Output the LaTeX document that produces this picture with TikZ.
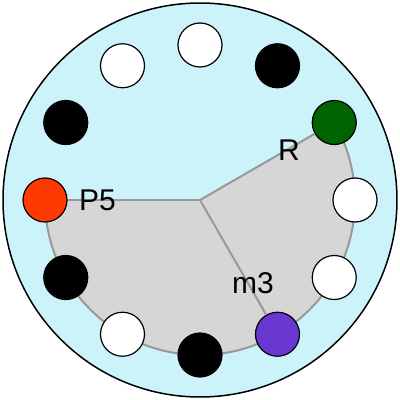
\documentclass[tikz,border=0pt]{standalone}
\usepackage{fontspec}
\setmainfont{Liberation Sans}
\usetikzlibrary{positioning}
\definecolor{dialbg}{RGB}{204,242,250}
\definecolor{slicefill}{RGB}{214,214,214}
\definecolor{sliceline}{RGB}{153,153,153}
\definecolor{pegred}{RGB}{255,58,0}
\definecolor{peggreen}{RGB}{0,100,0}
\definecolor{pegpurple}{RGB}{104,56,208}

\begin{document}
\begin{tikzpicture}[x=1pt, y=1pt,
	peg/.style={circle, draw=black, line width=1.2pt, minimum size=44pt, inner sep=0pt},
	spoke/.style={draw=sliceline, line width=2pt},
	lbl/.style={font=\fontsize{30}{30}\selectfont, inner sep=0pt}]
	    \useasboundingbox (-200,-200) rectangle (200,200);
	    \coordinate (O) at (0,0);
	    \draw[fill=dialbg, line width=1.5pt] (O) circle (197);
	    \fill[slicefill] (O) -- (180:155) arc[start angle=180, end angle=390, radius=155] -- cycle;
	    \draw[spoke] (180:155) arc[start angle=180, end angle=390, radius=155];
	    \foreach \a/\c in {90/white, 60/black, 30/peggreen, 0/white, -30/white, -60/pegpurple, -90/black, -120/white, -150/black, 180/pegred, 150/black, 120/white}
	        \node[peg, fill=\c] (peg\a) at (\a:155) {};
	    \draw[spoke] (O) -- (peg180);
	    \draw[spoke] (O) -- (peg30);
	    \draw[spoke] (O) -- (peg-60);
	    \node[lbl, anchor=west] (P5) at (-121,0) {P5};
	    \node[lbl] (R) at (89,50) {R};
	    \node[lbl] (m3) at (53,-83) {m3};
	\end{tikzpicture}
\end{document}
